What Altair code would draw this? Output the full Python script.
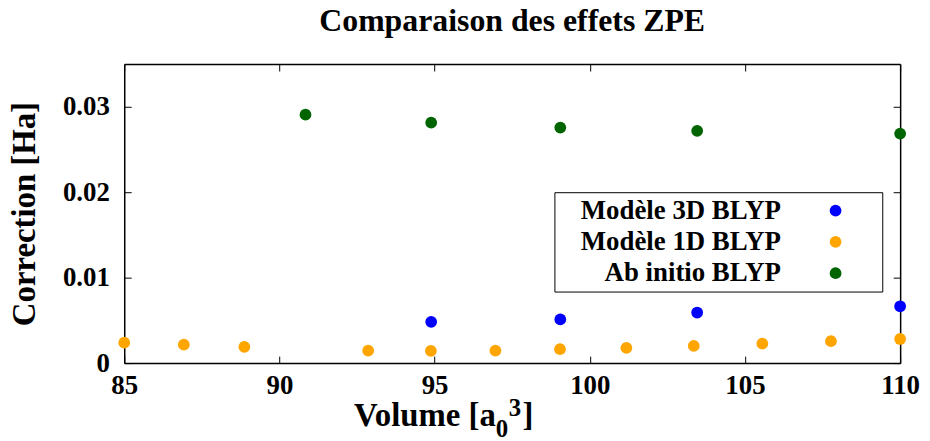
import altair as alt
import pandas as pd

# ---- data ----
series = ["Modèle 3D BLYP", "Modèle 1D BLYP", "Ab initio BLYP"]
colors = ["#0000ff", "#ffa500", "#006400"]

vol_3d = [94.89, 99.05, 103.46, 110.0]
corr_3d = [0.00483, 0.00511, 0.00592, 0.00665]

vol_1d = [85.0, 86.92, 88.87, 92.86, 94.88, 96.96, 99.04, 101.18, 103.35, 105.56, 107.77, 110.0]
corr_1d = [0.00239, 0.00216, 0.00189, 0.00146, 0.00143, 0.00146, 0.00163, 0.00178,
           0.00201, 0.00228, 0.00256, 0.00282]

vol_ab = [90.84, 94.89, 99.05, 103.46, 110.0]
corr_ab = [0.02907, 0.02814, 0.02756, 0.02718, 0.02686]

x_ticks = [85, 90, 95, 100, 105, 110]
y_ticks = [0, 0.01, 0.02, 0.03]
x_domain = [85, 110]
y_domain = [0, 0.035]

title_text = "Comparaison des effets ZPE"
y_title = "Correction [Ha]"
x_title_parts = ["Volume [a", "0", "3", "]"]

rows = []
for name, vs, cs in [(series[0], vol_3d, corr_3d), (series[1], vol_1d, corr_1d), (series[2], vol_ab, corr_ab)]:
    for v, c in zip(vs, cs):
        rows.append({"Volume": v, "Correction": c, "Serie": name})
df = pd.DataFrame(rows)

W, H = 781, 301
FONT = "Liberation Serif"

xscale = alt.Scale(domain=x_domain, nice=False, zero=False)
yscale = alt.Scale(domain=y_domain, nice=False)

color = alt.Color(
    "Serie:N",
    scale=alt.Scale(domain=series, range=colors),
    sort=series,
    legend=alt.Legend(
        title=" ", titleOrient="right", titlePadding=36, titleFontSize=26,
        orient="none", legendX=433, legendY=129,
        strokeColor="black", fillColor="white", padding=5,
        labelFont=FONT, labelFontSize=27, labelFontWeight="bold", labelColor="black",
        labelAlign="right", labelOffset=alt.ExprRef(expr="-68.5"), symbolOffset=264.5,
        labelLimit=500, symbolSize=140, symbolType="circle", rowPadding=3.5,
    ),
)

main = alt.Chart(df).mark_circle(size=140, opacity=1).encode(
    x=alt.X("Volume:Q", scale=xscale,
            axis=alt.Axis(orient="bottom", values=x_ticks, ticks=False, tickSize=0, grid=False,
                          title=None, labelPadding=10, format="d", labelFlush=False)),
    y=alt.Y("Correction:Q", scale=yscale,
            axis=alt.Axis(orient="left", values=y_ticks, ticks=False, tickSize=0, grid=False,
                          format=".2~f", labelPadding=15, labelFlush=False,
                          title=y_title, titleX=-90, titleY=150.5, titleBaseline="alphabetic",
                          titleFont=FONT, titleFontSize=33, titleFontWeight="bold",
                          titleColor="black", titleAngle=270)),
    color=color,
)

# inward ticks: bottom edge (up) and left edge (right)
ticks_a = alt.Chart(df).mark_circle(opacity=0).encode(
    x=alt.X("Volume:Q", scale=xscale,
            axis=alt.Axis(orient="top", offset=-H, values=x_ticks, labels=False, domain=False,
                          tickSize=7, grid=False, title=None)),
    y=alt.Y("Correction:Q", scale=yscale,
            axis=alt.Axis(orient="right", offset=-W, values=y_ticks, labels=False, domain=False,
                          tickSize=7, grid=False, title=None)),
)

# top border with downward ticks, right border with leftward ticks
ticks_b = alt.Chart(df).mark_circle(opacity=0).encode(
    x=alt.X("Volume:Q", scale=xscale,
            axis=alt.Axis(orient="bottom", offset=-H, values=x_ticks, labels=False, domain=True,
                          tickSize=7, grid=False, title=None)),
    y=alt.Y("Correction:Q", scale=yscale,
            axis=alt.Axis(orient="left", offset=-W, values=y_ticks, labels=False, domain=True,
                          tickSize=7, grid=False, title=None)),
)

def tpart(txt, size, align, xpos, ypos):
    return alt.Chart(pd.DataFrame({"t": [txt]})).mark_text(
        align=align, baseline="alphabetic", font=FONT, fontWeight="bold",
        fontSize=size, color="black"
    ).encode(text="t:N", x=alt.value(xpos), y=alt.value(ypos))

texts = [
    tpart(title_text, 32, "center", W / 2, -33),
    tpart(x_title_parts[0], 33, "right", 374, 364),
    tpart(x_title_parts[1], 25, "left", 374, 375),
    tpart(x_title_parts[2], 25, "left", 387, 354),
    tpart(x_title_parts[3], 33, "left", 401, 364),
]

chart = alt.layer(ticks_b, ticks_a, main, *texts).resolve_axis(
    x="independent", y="independent"
).properties(
    width=W, height=H,
    padding={"left": 117, "top": 55, "right": 22, "bottom": 77},
    autosize=alt.AutoSizeParams(type="none"),
    background="white",
).configure_view(stroke=None).configure_axis(
    labelFont=FONT, labelFontSize=27, labelFontWeight="bold", labelColor="black",
    domainColor="black", domainWidth=1.5, tickColor="black", tickWidth=1,
)

chart.save("out.html", embed_options={"renderer": "svg", "actions": False})
